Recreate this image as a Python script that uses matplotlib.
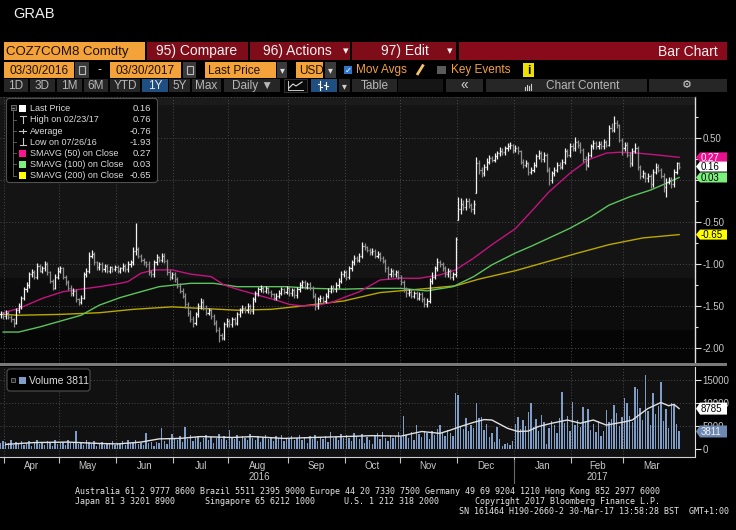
import numpy as np
import pandas as pd
import matplotlib
matplotlib.use('Agg')
import matplotlib.pyplot as plt
from matplotlib.patches import Rectangle, Polygon, FancyBboxPatch
import matplotlib.transforms as mtrans

plt.rcParams['font.family'] = ['Liberation Sans', 'DejaVu Sans']

W, H = 736, 530
dates = pd.bdate_range('2016-03-30', '2017-03-30')

# ---------------- data ----------------
closes = [
    -1.60, -1.62,
    -1.58, -1.63, -1.66, -1.70, -1.55, -1.50, -1.40, -1.30, -1.25, -1.12, -1.10, -1.15, -1.02, -1.08, -1.05, -1.00, -1.10, -1.20, -1.28, -1.15, -1.08,
    -1.05, -1.15, -1.22, -1.28, -1.35, -1.32, -1.42, -1.45, -1.40, -1.12, -1.08, -0.90, -0.88, -0.98, -1.04, -1.00, -1.06, -1.02, -1.08, -1.04, -1.06, -1.03,
    -1.08, -1.05, -1.02, -1.06, -1.00, -0.98, -0.85, -0.82, -0.90, -0.95, -0.98, -1.00, -1.10, -1.12, -0.98, -0.92, -0.95, -0.90, -0.96, -1.10, -1.15, -1.12,
    -1.18, -1.26, -1.32, -1.38, -1.48, -1.58, -1.65, -1.70, -1.60, -1.50, -1.45, -1.52, -1.58, -1.55, -1.62, -1.70, -1.78, -1.85, -1.88, -1.72, -1.68,
    -1.72, -1.66, -1.70, -1.60, -1.55, -1.52, -1.55, -1.50, -1.56, -1.42, -1.35, -1.30, -1.28, -1.32, -1.29, -1.33, -1.36, -1.40, -1.38, -1.34, -1.30, -1.33, -1.29,
    -1.35, -1.31, -1.37, -1.30, -1.25, -1.22, -1.27, -1.24, -1.28, -1.38, -1.50, -1.42, -1.40, -1.44, -1.38, -1.32, -1.28, -1.30, -1.25, -1.20, -1.12, -1.10,
    -1.15, -1.05, -0.98, -0.93, -0.95, -0.90, -0.78, -0.80, -0.83, -0.86, -0.84, -0.90, -0.88, -0.93, -0.96, -1.05, -1.12, -1.08, -1.12, -1.10, -1.15,
    -1.22, -1.30, -1.35, -1.33, -1.38, -1.35, -1.40, -1.36, -1.42, -1.48, -1.44, -1.20, -1.15, -1.05, -0.98, -1.00, -1.05, -1.12, -1.08, -1.15, -1.12, -0.70,
    -0.35, -0.28, -0.32, -0.25, -0.30, -0.35, -0.28, 0.20, 0.12, 0.08, 0.15, 0.22, 0.26, 0.24, 0.28, 0.32, 0.35, 0.33, 0.38, 0.40, 0.42, 0.36,
    0.38, 0.34, 0.22, 0.18, 0.20, 0.10, 0.12, 0.18, 0.28, 0.32, 0.25, 0.30, 0.12, 0.00, 0.08, 0.12, 0.18, 0.16, 0.22, 0.35, 0.30, 0.40,
    0.38, 0.45, 0.42, 0.36, 0.25, 0.18, 0.30, 0.40, 0.44, 0.40, 0.43, 0.40, 0.45, 0.42, 0.62, 0.60, 0.68, 0.66, 0.48, 0.38,
    0.42, 0.30, 0.20, 0.35, 0.38, 0.15, 0.05, 0.08, 0.02, 0.05, -0.05, 0.10, 0.16, 0.12, 0.05, -0.08, -0.02, 0.00, -0.05, 0.10, 0.20, 0.16,
]
highs = [
    -1.56, -1.57,
    -1.55, -1.56, -1.61, -1.64, -1.52, -1.47, -1.38, -1.27, -1.22, -1.09, -1.06, -1.07, -0.99, -1.00, -1.02, -0.97, -0.98, -1.08, -1.18, -1.12, -1.04,
    -1.02, -1.03, -1.13, -1.19, -1.25, -1.29, -1.30, -1.40, -1.37, -1.09, -1.05, -0.86, -0.83, -0.86, -0.96, -0.98, -0.98, -1.00, -1.00, -1.02, -1.02, -1.01,
    -1.01, -1.03, -0.99, -1.00, -0.97, -0.95, -0.80, -0.51, -0.80, -0.88, -0.93, -0.96, -0.97, -1.07, -0.95, -0.88, -0.90, -0.87, -0.87, -0.94, -1.07, -1.09,
    -1.09, -1.15, -1.23, -1.29, -1.35, -1.45, -1.55, -1.62, -1.57, -1.46, -1.40, -1.42, -1.49, -1.52, -1.52, -1.59, -1.67, -1.75, -1.82, -1.69, -1.64,
    -1.65, -1.63, -1.63, -1.57, -1.52, -1.49, -1.50, -1.47, -1.48, -1.39, -1.32, -1.27, -1.25, -1.26, -1.26, -1.27, -1.31, -1.34, -1.35, -1.31, -1.27, -1.28, -1.26,
    -1.26, -1.28, -1.28, -1.27, -1.22, -1.19, -1.19, -1.21, -1.21, -1.26, -1.35, -1.39, -1.37, -1.38, -1.35, -1.29, -1.25, -1.25, -1.22, -1.17, -1.08, -1.07,
    -1.07, -1.02, -0.95, -0.89, -0.90, -0.87, -0.74, -0.75, -0.78, -0.81, -0.81, -0.82, -0.85, -0.86, -0.91, -0.94, -1.02, -1.05, -1.06, -1.07, -1.07,
    -1.13, -1.19, -1.27, -1.30, -1.30, -1.32, -1.32, -1.33, -1.33, -1.39, -1.41, -1.17, -1.10, -1.02, -0.93, -0.95, -0.98, -1.02, -1.05, -1.06, -1.09, -0.68,
    -0.20, -0.21, -0.24, -0.21, -0.22, -0.27, -0.24, 0.27, 0.24, 0.16, 0.19, 0.26, 0.30, 0.29, 0.32, 0.35, 0.39, 0.38, 0.41, 0.44, 0.45, 0.43,
    0.42, 0.41, 0.36, 0.25, 0.24, 0.22, 0.15, 0.21, 0.31, 0.36, 0.34, 0.33, 0.32, 0.15, 0.11, 0.15, 0.21, 0.21, 0.25, 0.38, 0.37, 0.44,
    0.44, 0.51, 0.48, 0.45, 0.38, 0.28, 0.33, 0.43, 0.48, 0.47, 0.46, 0.46, 0.49, 0.48, 0.65, 0.68, 0.76, 0.72, 0.67, 0.50,
    0.45, 0.45, 0.33, 0.38, 0.44, 0.40, 0.18, 0.12, 0.10, 0.08, 0.07, 0.13, 0.20, 0.19, 0.14, 0.08, 0.02, 0.04, 0.03, 0.13, 0.22, 0.21,
]
lows = [
    -1.64, -1.66,
    -1.65, -1.66, -1.69, -1.75, -1.72, -1.58, -1.53, -1.43, -1.33, -1.28, -1.16, -1.18, -1.18, -1.10, -1.11, -1.08, -1.13, -1.23, -1.31, -1.30, -1.18,
    -1.11, -1.18, -1.25, -1.31, -1.38, -1.38, -1.45, -1.49, -1.48, -1.42, -1.15, -1.11, -0.93, -1.01, -1.07, -1.07, -1.09, -1.09, -1.11, -1.11, -1.09, -1.08,
    -1.11, -1.11, -1.08, -1.09, -1.09, -1.03, -1.01, -0.89, -0.93, -0.98, -1.01, -1.03, -1.13, -1.16, -1.15, -1.01, -0.98, -0.98, -0.99, -1.13, -1.19, -1.18,
    -1.21, -1.29, -1.35, -1.41, -1.52, -1.62, -1.69, -1.75, -1.73, -1.63, -1.53, -1.55, -1.61, -1.61, -1.65, -1.73, -1.81, -1.93, -1.91, -1.90, -1.75,
    -1.75, -1.75, -1.73, -1.73, -1.63, -1.58, -1.58, -1.58, -1.59, -1.59, -1.45, -1.38, -1.33, -1.35, -1.35, -1.36, -1.39, -1.43, -1.43, -1.41, -1.37, -1.36, -1.36,
    -1.38, -1.38, -1.40, -1.40, -1.33, -1.28, -1.30, -1.30, -1.31, -1.41, -1.55, -1.53, -1.45, -1.47, -1.47, -1.41, -1.35, -1.33, -1.33, -1.28, -1.23, -1.16,
    -1.19, -1.18, -1.08, -1.01, -0.98, -0.98, -0.93, -0.83, -0.86, -0.89, -0.89, -0.93, -0.93, -0.96, -0.99, -1.09, -1.18, -1.15, -1.15, -1.15, -1.18,
    -1.25, -1.33, -1.39, -1.38, -1.41, -1.41, -1.43, -1.43, -1.45, -1.51, -1.51, -1.47, -1.24, -1.18, -1.08, -1.03, -1.08, -1.15, -1.15, -1.18, -1.19, -1.16,
    -0.48, -0.40, -0.36, -0.36, -0.33, -0.38, -0.40, -0.16, 0.07, 0.04, 0.05, 0.12, 0.19, 0.21, 0.21, 0.25, 0.29, 0.30, 0.30, 0.35, 0.37, 0.32,
    0.33, 0.31, 0.19, 0.14, 0.15, 0.06, 0.07, 0.09, 0.15, 0.25, 0.22, 0.22, 0.09, -0.06, -0.03, 0.05, 0.09, 0.13, 0.13, 0.19, 0.27, 0.27,
    0.34, 0.35, 0.38, 0.32, 0.21, 0.12, 0.15, 0.27, 0.37, 0.37, 0.37, 0.37, 0.37, 0.39, 0.40, 0.57, 0.57, 0.62, 0.45, 0.30,
    0.35, 0.27, 0.15, 0.17, 0.32, 0.12, 0.01, 0.02, -0.02, -0.02, -0.10, -0.08, 0.07, 0.09, 0.02, -0.14, -0.20, -0.05, -0.09, -0.08, 0.07, 0.13,
]
volumes_k = [
    1.2, 1.7,
    1.6, 1.2, 1.9, 0.8, 1.5, 1.3, 1.8, 0.9, 1.4, 1.7, 0.7, 1.2, 1.9, 1.0, 1.5, 0.9, 1.7, 1.2, 0.6, 2.0, 1.1,
    1.3, 1.6, 0.9, 1.9, 1.2, 1.4, 3.9, 1.0, 1.6, 0.8, 2.0, 1.5, 1.1, 1.7, 0.7, 1.3, 1.6, 0.9, 1.4, 1.2, 1.8, 0.9,
    1.4, 1.1, 1.7, 0.8, 2.0, 1.3, 1.5, 1.9, 1.0, 1.4, 0.9, 3.4, 1.3, 1.6, 0.7, 1.6, 1.2, 4.6, 1.8, 1.1, 2.1, 3.2,
    2.4, 2.0, 2.8, 1.6, 4.7, 2.2, 3.0, 1.8, 2.6, 2.9, 1.5, 2.3, 3.1, 2.0, 2.7, 1.4, 2.5, 3.3, 2.1, 2.8, 1.9,
    4.1, 2.6, 2.2, 3.0, 1.7, 2.8, 2.4, 1.9, 3.2, 2.5, 2.0, 2.9, 1.6, 2.7, 3.1, 2.2, 2.6, 1.8, 2.9, 2.3, 3.0, 1.7, 2.4,
    2.3, 2.8, 1.9, 2.5, 3.1, 2.0, 2.6, 1.4, 2.9, 2.2, 3.0, 1.8, 2.6, 2.1, 2.8, 1.6, 3.6, 2.3, 2.7, 1.9, 3.2, 2.5,
    3.0, 2.4, 1.8, 3.5, 2.9, 2.2, 3.3, 1.4, 2.6, 2.0, 1.0, 2.8, 3.4, 2.1, 3.6, 2.5, 1.7, 3.0, 2.3, 2.8, 3.7,
    2.6, 7.2, 3.1, 2.4, 3.8, 2.0, 5.2, 3.3, 2.7, 4.0, 3.5, 2.2, 3.9, 3.0, 4.4, 5.2, 3.6, 2.8, 4.1, 3.4, 2.9, 12.2,
    11.8, 5.0, 4.4, 6.7, 3.9, 5.3, 4.6, 10.0, 6.8, 6.9, 4.2, 5.4, 2.6, 3.5, 1.6, 4.8, 2.2, 0.6, 1.0, 1.4, 0.8, 1.8,
    5.5, 7.0, 4.4, 6.2, 5.0, 8.1, 10.0, 4.8, 6.6, 3.9, 7.4, 5.8, 1.0, 4.6, 6.0, 5.2, 3.4, 6.8, 12.5, 5.6, 7.2, 4.0,
    10.3, 5.2, 6.4, 4.8, 9.2, 6.0, 8.8, 4.2, 5.5, 3.8, 6.1, 2.9, 4.0, 8.5, 5.8, 6.6, 9.6, 7.8, 5.0, 6.9,
    11.0, 9.9, 7.2, 5.8, 13.5, 13.0, 9.0, 6.4, 16.1, 8.2, 5.2, 12.1, 7.6, 9.4, 14.6, 6.0, 8.8, 4.6, 10.1, 9.8, 5.4, 3.811,
]

# moving averages (trading-day position, value)
sma50_idx = [1, 7, 16, 24, 31, 38, 46, 49, 54, 59, 66, 73, 81, 86, 91, 99, 106, 111, 116, 122, 128, 132, 138,
             146, 154, 161, 169, 175, 182, 189, 198, 204, 211, 219, 226, 233, 238, 245, 252, 261]
sma50_val = [-1.58, -1.53, -1.41, -1.33, -1.30, -1.27, -1.23, -1.21, -1.11, -1.07, -1.07, -1.12, -1.15, -1.25,
             -1.30, -1.37, -1.43, -1.48, -1.50, -1.49, -1.45, -1.40, -1.33, -1.19, -1.17, -1.17, -1.13, -1.07,
             -0.93, -0.77, -0.58, -0.38, -0.14, 0.08, 0.24, 0.32, 0.33, 0.32, 0.30, 0.27]
sma100_idx = [1, 7, 15, 23, 31, 38, 46, 54, 61, 67, 73, 82, 91, 99, 110, 120, 132, 143, 154, 164, 174,
              182, 189, 198, 204, 211, 219, 227, 234, 242, 250, 256, 261]
sma100_val = [-1.81, -1.81, -1.75, -1.68, -1.61, -1.49, -1.40, -1.33, -1.27, -1.25, -1.23, -1.23, -1.27,
              -1.27, -1.27, -1.29, -1.30, -1.29, -1.29, -1.32, -1.27, -1.15, -1.01, -0.87, -0.79, -0.69,
              -0.575, -0.44, -0.30, -0.20, -0.12, -0.04, 0.03]
sma200_idx = [1, 7, 23, 38, 51, 66, 78, 91, 104, 116, 132, 146, 161, 175, 184, 198, 222, 234, 247, 261]
sma200_val = [-1.60, -1.61, -1.60, -1.58, -1.54, -1.51, -1.53, -1.55, -1.54, -1.50, -1.44, -1.34, -1.30,
              -1.26, -1.18, -1.08, -0.87, -0.77, -0.69, -0.65]
volma_idx = [2, 13, 26, 38, 45, 54, 61, 69, 77, 89, 97, 109, 120, 132, 143, 154, 162, 169, 173, 177, 182,
             186, 189, 195, 199, 203, 207, 212, 218, 223, 228, 233, 240, 243, 249, 254, 257, 259, 261]
volma_val = [1.0, 1.4, 1.5, 1.2, 1.1, 1.5, 2.2, 2.3, 2.7, 2.5, 2.7, 2.3, 2.5, 2.7, 2.9, 2.8, 3.8, 3.4, 4.1,
             4.9, 5.8, 6.4, 6.3, 4.5, 3.8, 3.9, 4.9, 5.6, 6.3, 5.6, 6.3, 5.2, 5.9, 6.3, 8.8, 10.1, 9.4, 9.7, 8.785]

price_ticks = [-2.0, -1.5, -1.0, -0.5, 0.0, 0.5]
price_ticklabels = ['-2.00', '-1.50', '-1.00', '-0.50', '', '0.50']
vol_ticks = [0, 5, 10, 15]
vol_ticklabels = ['0', '5000', '10000', '15000']
month_labels = ['Apr', 'May', 'Jun', 'Jul', 'Aug', 'Sep', 'Oct', 'Nov', 'Dec', 'Jan', 'Feb', 'Mar']
average_price = -0.76

legend_rows = [('Last Price', 'sq', '#ffffff'),
               ('High on 02/23/17', 'hi', None),
               ('Average', 'avg', None),
               ('Low on 07/26/16', 'lo', None),
               ('SMAVG (50) on Close', 'sq', '#ff1493'),
               ('SMAVG (100) on Close', 'sq', '#7cf07c'),
               ('SMAVG (200) on Close', 'sq', '#ffff00')]

# ---------------- figure ----------------
fig = plt.figure(figsize=(W / 100, H / 100), dpi=100, facecolor='black')


def frac(x0, y0, x1, y1):
    return [x0 / W, 1 - y1 / H, (x1 - x0) / W, (y1 - y0) / H]


closes_a = np.array(closes)
highs_a = np.array(highs)
lows_a = np.array(lows)
vol_a = np.array(volumes_k)
xpos = np.arange(len(dates))
opens_a = np.clip(np.concatenate([[closes_a[0]], closes_a[:-1]]), lows_a, highs_a)

# month boundaries / centres
months = dates.to_period('M')
bounds = [i - 0.5 for i in range(1, len(dates)) if months[i] != months[i - 1]]
centres = []
for m in pd.unique(months)[1:]:
    idx = np.where(months == m)[0]
    centres.append(idx.mean())
year_start_2017 = [i for i in range(len(dates)) if dates[i].year == 2017][0]

XL = (-0.5 / 2.6, (695 - 0.5) / 2.6)
GRID = dict(color='#4a4a4a', lw=0.7, ls=(0, (1, 2)))

# ---- price panel ----
ax = fig.add_axes(frac(0, 97, 695, 363))
ax.set_facecolor('#050505')
ax.set_xlim(*XL)
ax.set_ylim((180 - 363) / 84, (180 - 97) / 84)
ax.axhspan(0.893, 2, color='#1b1b1b', lw=0, zorder=0)
ax.axhspan(-1.167, 0.893, color='#141414', lw=0, zorder=0)
ax.axhspan(-1.786, -1.167, color='#0c0c0c', lw=0, zorder=0)
for b in bounds:
    ax.axvline(b, zorder=1, **GRID)
for t in price_ticks:
    ax.axhline(t, zorder=1, **GRID)

up = closes_a >= opens_a
cols = np.where(up, '#f2f2f2', '#8e8e8e')
ax.vlines(xpos, lows_a, highs_a, colors=cols, lw=0.9, zorder=3)
ax.hlines(opens_a, xpos - 0.45, xpos, colors=cols, lw=0.9, zorder=3)
ax.hlines(closes_a, xpos, xpos + 0.45, colors=cols, lw=0.9, zorder=3)

ax.plot(sma200_idx, sma200_val, color='#b9a800', lw=1.0, zorder=2)
ax.plot(sma100_idx, sma100_val, color='#5cc45c', lw=1.0, zorder=2)
ax.plot(sma50_idx, sma50_val, color='#c3137f', lw=1.0, zorder=2)

for s in ['top', 'left', 'bottom']:
    ax.spines[s].set_visible(False)
ax.spines['right'].set_color('#e0e0e0')
ax.spines['right'].set_linewidth(1.0)
ax.set_xticks([])
ax.yaxis.tick_right()
ax.set_yticks(price_ticks)
ax.set_yticklabels(price_ticklabels)
ax.set_yticks([-1.75, -1.25, -0.75, -0.25, 0.25, 0.75], minor=True)
ax.tick_params(axis='y', which='major', colors='#e0e0e0', labelcolor='#c8c8c8', length=4, width=0.8,
               labelsize=7, pad=1.5)
ax.tick_params(axis='y', which='minor', colors='#e0e0e0', length=2, width=0.8)

# ---- volume panel ----
axv = fig.add_axes(frac(0, 367, 695, 457))
axv.set_facecolor('#111111')
axv.set_xlim(*XL)
axv.set_ylim((449 - 457) / 4.6, (449 - 367) / 4.6)
for b in bounds:
    axv.axvline(b, zorder=1, **GRID)
for t in vol_ticks[1:]:
    axv.axhline(t, zorder=1, **GRID)
axv.bar(xpos, vol_a, width=0.55, color='#7f9dc6', lw=0, zorder=2)
axv.plot(volma_idx, volma_val, color='#e0e0e0', lw=1.0, zorder=3)
for s in ['top', 'left']:
    axv.spines[s].set_visible(False)
axv.spines['right'].set_color('#e0e0e0')
axv.spines['bottom'].set_color('#d0d0d0')
axv.yaxis.tick_right()
axv.set_yticks(vol_ticks)
axv.set_yticklabels(vol_ticklabels)
axv.tick_params(axis='y', colors='#e0e0e0', labelcolor='#c8c8c8', length=4, width=0.8, labelsize=7, pad=1.5)
axv.set_xticks(centres)
axv.set_xticklabels(month_labels)
axv.set_xticks(bounds, minor=True)
axv.tick_params(axis='x', which='major', length=0, labelsize=7, labelcolor='#c8c8c8', pad=3)
axv.tick_params(axis='x', which='minor', length=4, color='#c0c0c0', width=0.8)
bt = mtrans.blended_transform_factory(axv.transData, axv.transAxes)
c16 = np.mean([i for i in range(len(dates)) if dates[i].year == 2016 and dates[i].month >= 4])
c17 = np.mean([i for i in range(len(dates)) if dates[i].year == 2017])
axv.text(c16, -0.22, '2016', transform=bt, ha='center', va='center', fontsize=7, color='#c8c8c8')
axv.text(c17, -0.22, '2017', transform=bt, ha='center', va='center', fontsize=7, color='#c8c8c8')
axv.plot([year_start_2017 - 0.5] * 2, [-0.03, -0.29], transform=bt, color='#6a6a6a', lw=0.8, clip_on=False)

# ---- overlay in pixel coordinates ----
ov = fig.add_axes([0, 0, 1, 1])
ov.set_xlim(0, W)
ov.set_ylim(H, 0)
ov.axis('off')
ov.patch.set_alpha(0)
ov.set_zorder(10)


def rect(x0, y0, x1, y1, fc, ec='none', lw=0.0):
    ov.add_patch(Rectangle((x0, y0), x1 - x0, y1 - y0, facecolor=fc, edgecolor=ec, lw=lw))


def txt(x, y, s, size, color, ha='left', va='center', **kw):
    ov.text(x, y, s, fontsize=size, color=color, ha=ha, va=va, **kw)


def py(axis, v):
    return H - axis.transData.transform((0, v))[1]


ORANGE = '#f4a23a'
DARK = '#1c1200'
RED = '#7e0c19'
BTN = '#262626'
BTNTXT = '#b8b8b8'
BLUE = '#1f4f80'

txt(13, 14, 'GRAB', 10.5, '#f0f0f0')

# row 1
rect(4, 42, 145, 60, ORANGE)
txt(6, 51.5, 'COZ7COM8 Comdty', 9.5, DARK)
rect(147, 42, 248, 60, RED)
txt(197, 51.5, '95) Compare', 10, '#f2f2f2', ha='center')
rect(250, 42, 350, 60, RED)
txt(297, 51.5, '96) Actions', 10, '#f2f2f2', ha='center')
txt(346, 51.5, '▾', 8, '#f2f2f2', ha='center', family='DejaVu Sans')
rect(352, 42, 456, 60, RED)
txt(405, 51.5, '97) Edit', 10, '#f2f2f2', ha='center')
txt(450, 51.5, '▾', 8, '#f2f2f2', ha='center', family='DejaVu Sans')
rect(459, 42, 727, 60, '#870b1b')
txt(718, 51.5, 'Bar Chart', 10, '#f2f2f2', ha='right')

# row 2
rect(4, 62, 74, 78, ORANGE)
txt(39, 70.5, '03/30/2016', 8.5, DARK, ha='center')
rect(75, 62, 89, 78, '#3a3a3a')
rect(79, 66, 85, 74, 'none', ec='#bdbdbd', lw=0.8)
txt(100, 70, '-', 9, '#e0e0e0', ha='center')
rect(110, 62, 181, 78, ORANGE)
txt(145.5, 70.5, '03/30/2017', 8.5, DARK, ha='center')
rect(183, 62, 196, 78, '#3a3a3a')
rect(187, 66, 193, 74, 'none', ec='#bdbdbd', lw=0.8)
rect(205, 62, 276, 78, ORANGE)
txt(208, 70.5, 'Last Price', 8.5, DARK)
rect(277, 62, 287, 78, '#3a3a3a')
txt(282, 70.5, '▾', 7, '#e0e0e0', ha='center', family='DejaVu Sans')
rect(296, 62, 323, 78, ORANGE)
txt(299, 70.5, 'USD', 8.5, DARK)
rect(325, 62, 336, 78, '#3a3a3a')
txt(330.5, 70.5, '▾', 7, '#e0e0e0', ha='center', family='DejaVu Sans')
rect(344, 66, 352, 74, '#2f74c8')
txt(348, 70, '✓', 6, 'white', ha='center', family='DejaVu Sans')
txt(356, 70.5, 'Mov Avgs', 8.5, ORANGE)
ov.plot([417, 423.5], [75, 64.5], color='#f3c46a', lw=2.0, solid_capstyle='butt')
rect(437, 66, 446, 74, '#5a5a5a')
txt(451, 70.5, 'Key Events', 8.5, ORANGE)
rect(523, 63, 534, 77, '#f0e000')
txt(528.5, 70.5, 'i', 8.5, 'black', ha='center', weight='bold')

# row 3
buttons = [(4, 28, '1D'), (30, 55, '3D'), (57, 82, '1M'), (84, 108, '6M'), (110, 140, 'YTD'),
           (142, 168, '1Y'), (169, 190, '5Y'), (192, 221, 'Max'), (224, 280, 'Daily ▼')]
for x0, x1, lab in buttons:
    blue = lab == '1Y'
    rect(x0, 79, x1, 92, BLUE if blue else BTN)
    txt((x0 + x1) / 2, 86, lab, 8.5, '#e8e8e8' if blue else BTNTXT, ha='center')
rect(284, 79, 307, 92, '#0a0a0a', ec='#3a3a3a', lw=0.6)
ov.plot([288, 288, 303], [81, 90, 90], color='#c8c8c8', lw=0.7)
ov.plot([289, 293, 296, 302], [88, 84, 86, 82], color='#e0e0e0', lw=0.8)
rect(311, 79, 337, 92, BLUE)
for xx, a, b in [(320, 81, 90), (326, 82, 89)]:
    ov.plot([xx, xx], [a, b], color='white', lw=0.8)
    ov.plot([xx - 2, xx], [a + 3, a + 3], color='white', lw=0.8)
    ov.plot([xx, xx + 2], [b - 3, b - 3], color='white', lw=0.8)
rect(339, 79, 350, 92, BTN)
txt(344.5, 86, '▾', 7, '#d0d0d0', ha='center', family='DejaVu Sans')
rect(352, 79, 397, 92, BTN)
txt(374.5, 86, 'Table', 8.5, BTNTXT, ha='center')
rect(398, 79, 443, 92, '#151515')
rect(446, 79, 483, 92, BTN)
txt(464.5, 85.5, '«', 10, '#d0d0d0', ha='center')
rect(486, 79, 647, 92, BTN)
for k, hgt in enumerate([3, 5, 4, 6]):
    ov.plot([525 + 2 * k, 525 + 2 * k], [90, 90 - hgt], color='#d0d0d0', lw=0.8)
txt(546, 86, 'Chart Content', 8.5, BTNTXT, ha='left')
rect(649, 79, 727, 92, BTN)
txt(687, 85.5, '⚙', 8, '#d0d0d0', ha='center', family='DejaVu Sans')

ov.plot([0, 695], [97, 97], **GRID)

# price legend
ov.add_patch(FancyBboxPatch((6.5, 98.5), 151, 84, boxstyle='round,pad=0,rounding_size=3',
                            facecolor='black', edgecolor='#505050', lw=0.8))
legend_vals = [closes_a[-1], highs_a.max(), average_price, lows_a.min(),
               sma50_val[-1], sma100_val[-1], sma200_val[-1]]
ys = [108.3 + 11.2 * k for k in range(len(legend_rows))]
ov.plot([13, 13], [111, ys[-1]], color='#6a6a6a', lw=0.6)
rect(10.5, 105, 15.5, 110, '#202020', ec='#8a8a8a', lw=0.5)
ov.plot([11.8, 14.2], [107.5, 107.5], color='#c0c0c0', lw=0.5)
for k, ((lab, kind, col), val) in enumerate(zip(legend_rows, legend_vals)):
    y = ys[k]
    if k > 0:
        ov.plot([13, 16], [y, y], color='#6a6a6a', lw=0.6)
    if kind == 'sq':
        rect(19, y - 3.5, 26, y + 3.5, col)
    elif kind == 'hi':
        ov.plot([19.5, 25.5], [y - 3.5, y - 3.5], color='#c8c8c8', lw=0.8)
        ov.plot([22.5, 22.5], [y - 3.5, y + 3.5], color='#c8c8c8', lw=0.8)
    elif kind == 'lo':
        ov.plot([19.5, 25.5], [y + 3.5, y + 3.5], color='#c8c8c8', lw=0.8)
        ov.plot([22.5, 22.5], [y - 3.5, y + 3.5], color='#c8c8c8', lw=0.8)
    else:
        ov.plot([19, 26], [y, y], color='#c8c8c8', lw=0.8)
        ov.plot([22.5, 22.5], [y - 1.8, y + 1.8], color='#c8c8c8', lw=0.8)
    txt(30, y + 0.5, lab, 6.5, '#dcdcdc')
    txt(151, y + 0.5, '%.2f' % val, 6.8, '#dcdcdc', ha='right')

# volume legend
ov.add_patch(FancyBboxPatch((7, 369), 83, 22, boxstyle='round,pad=0,rounding_size=3',
                            facecolor='black', edgecolor='#505050', lw=0.8))
rect(11, 378, 15, 382, '#202020', ec='#8a8a8a', lw=0.5)
rect(19, 376.5, 26, 384, '#7f9dc6')
txt(29, 380.5, 'Volume %d' % round(vol_a[-1] * 1000), 7.5, '#dcdcdc')


def tag(y, s, fc, tc):
    ov.add_patch(Polygon([(696, y), (700, y - 5), (727, y - 5), (727, y + 5), (700, y + 5)],
                         closed=True, facecolor=fc, edgecolor='none'))
    txt(701, y + 0.5, s, 7, tc)


tag(py(ax, sma50_val[-1]), '%.2f' % sma50_val[-1], '#e8108c', '#ffffff')
tag(py(ax, closes_a[-1]), '%.2f' % closes_a[-1], '#ffffff', '#000000')
tag(py(ax, sma100_val[-1]), '%.2f' % sma100_val[-1], '#7cf07c', '#000000')
tag(py(ax, sma200_val[-1]), '%.2f' % sma200_val[-1], '#ffff00', '#000000')


def vtag(y, s, fc, tc):
    ov.add_patch(Polygon([(696, y), (700, y - 6), (727, y - 6), (727, y + 6), (700, y + 6)],
                         closed=True, facecolor=fc, edgecolor='none'))
    txt(701, y + 0.5, s, 7, tc)


vtag(py(axv, volma_val[-1]), '%d' % round(volma_val[-1] * 1000), '#ffffff', '#000000')
vtag(py(axv, vol_a[-1]), '%d' % round(vol_a[-1] * 1000), '#6d89b2', '#f0f0f0')

# separator between panels
rect(0, 363, 727, 366, '#7a7a7a')

# footer
MONO = 'DejaVu Sans Mono'
FC = '#e6e6e6'
txt(75, 491, 'Australia 61 2 9777 8600 Brazil 5511 2395 9000 Europe 44 20 7330 7500 Germany 49 69 9204 1210 Hong Kong 852 2977 6000',
    6.0, FC, family=MONO)
txt(75, 501, 'Japan 81 3 3201 8900', 6.0, FC, family=MONO)
txt(205, 501, 'Singapore 65 6212 1000', 6.0, FC, family=MONO)
txt(344, 501, 'U.S. 1 212 318 2000', 6.0, FC, family=MONO)
txt(475, 501, 'Copyright 2017 Bloomberg Finance L.P.', 6.0, FC, family=MONO)
txt(729, 511, 'SN 161464 H190-2660-2 30-Mar-17 13:58:28 BST  GMT+1:00', 6.0, FC, ha='right', family=MONO)

fig.savefig('out.png', dpi=100, facecolor='black')
